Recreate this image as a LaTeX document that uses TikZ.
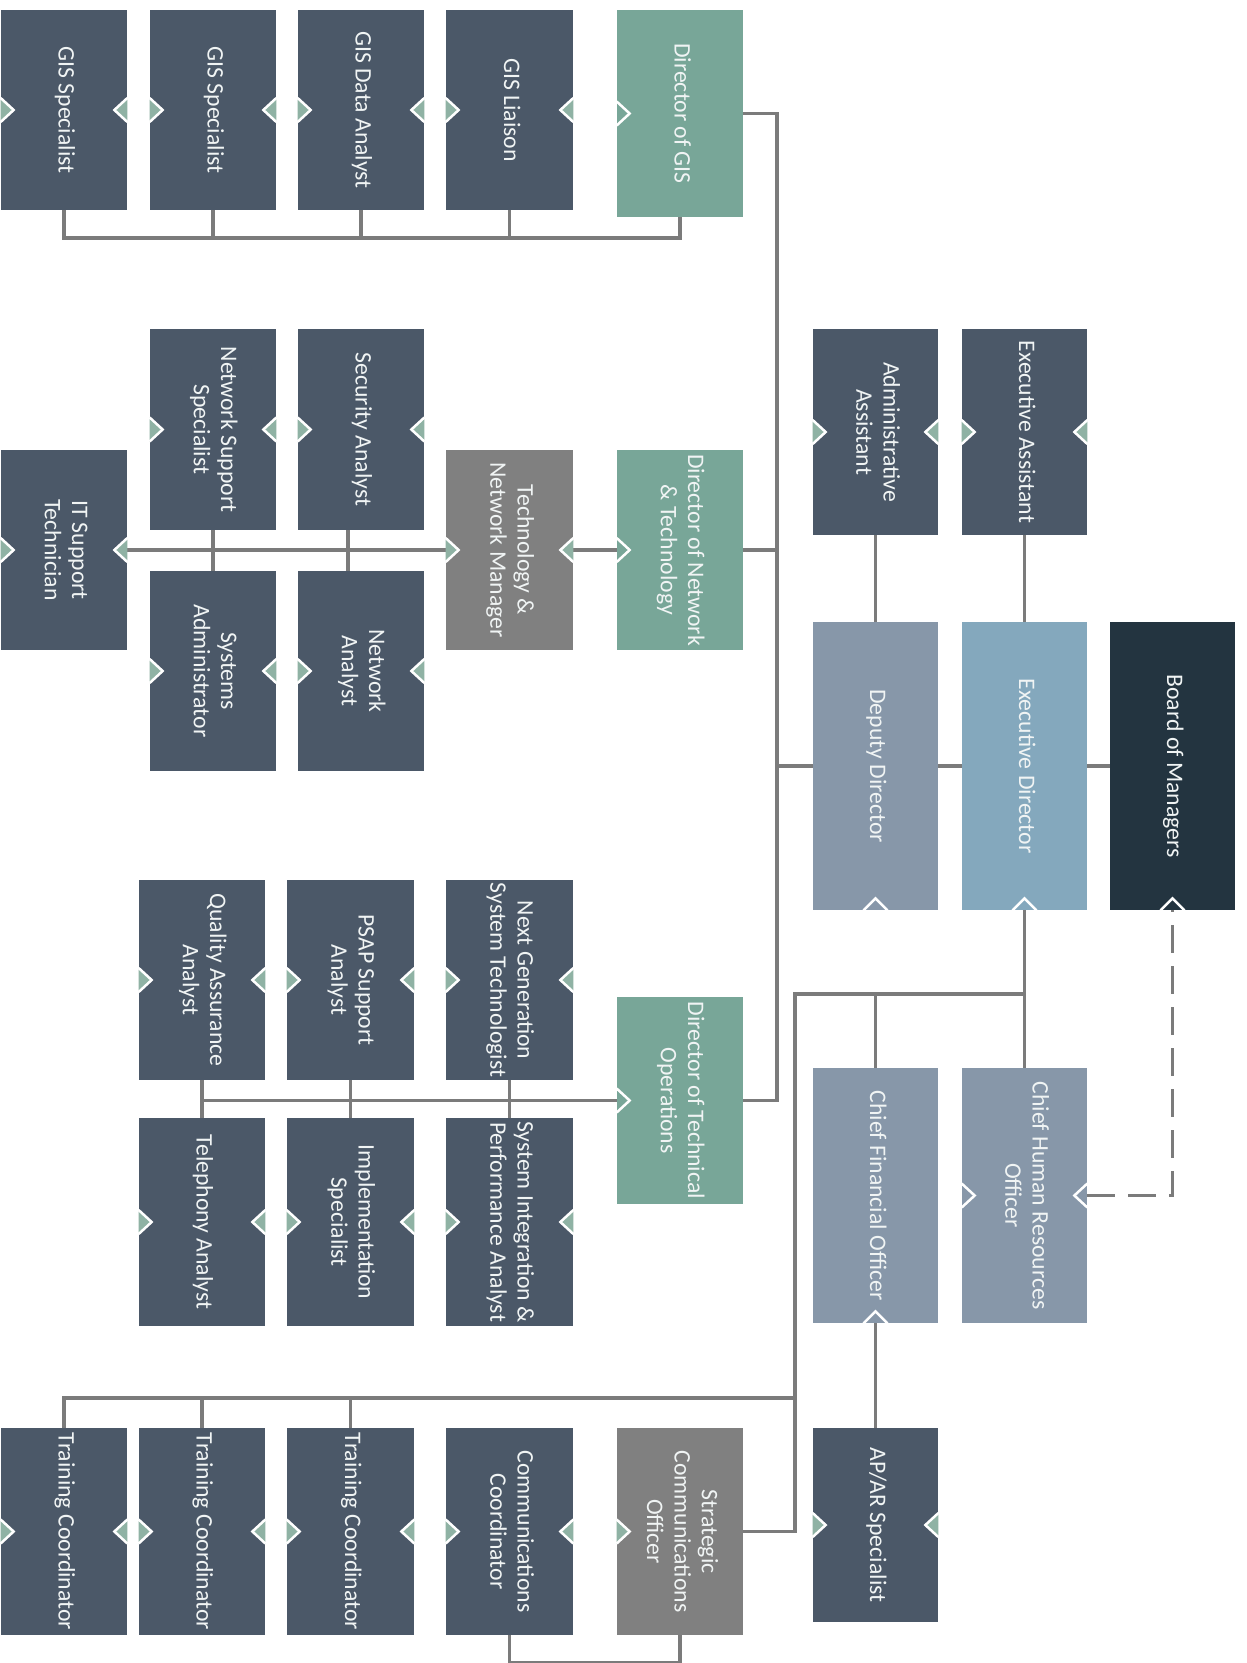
\documentclass[tikz,border=0pt]{standalone}
\usepackage{fontspec}
\setmainfont{Carlito}
\definecolor{cDark}{HTML}{4B5868}
\definecolor{cTeal}{HTML}{78A698}
\definecolor{cGrey}{HTML}{808080}
\definecolor{cDep}{HTML}{8797A9}
\definecolor{cExd}{HTML}{84A8BD}
\definecolor{cBoard}{HTML}{233440}
\definecolor{cMk}{HTML}{8FB2A4}
\definecolor{cLn}{HTML}{7B7B7B}
\definecolor{cTxt}{HTML}{F0F4F4}
\tikzset{
  box/.style={rectangle, inner sep=0pt, text=cTxt, font=\fontsize{13.5pt}{15.6pt}\selectfont},
  conn/.style={draw=cLn, line width=0.065cm},
  dashconn/.style={conn, dash pattern=on 0.56cm off 0.26cm},
  marker/.style={draw=white, line width=0.05cm, line join=miter},
}
\newcommand\vt[1]{\rotatebox{-90}{\begin{tabular}{@{}c@{}}#1\end{tabular}}}
\newcommand\bx[7]{\node[box, fill=#6, minimum width={(#4-#2)*0.02cm}, minimum height={(#5-#3)*0.02cm}] (#1) at ({(#2+#4)/2},{(#3+#5)/2}) {\vt{#7}};}
\newcommand\mkL[2][cMk]{\filldraw[marker, fill=#1] (#2.west) ++(0,-12) -- ++(13,12) -- ++(-13,12);}
\newcommand\mkR[2][cMk]{\filldraw[marker, fill=#1] (#2.east) ++(0,-12) -- ++(-13,12) -- ++(13,12);}
\newcommand\mkB[2][none]{\filldraw[marker, fill=#1] (#2.south) ++(-12,0) -- ++(12,-12) -- ++(12,12);}
\begin{document}
\begin{tikzpicture}[x=0.02cm, y=-0.02cm]
\fill[white] (0,0) rectangle (1247,1663);
\useasboundingbox (0,0) rectangle (1247,1663);

% GIS row
\bx{gis1}{1}{10}{127}{210}{cDark}{GIS Specialist}
\bx{gis2}{150}{10}{276}{210}{cDark}{GIS Specialist}
\bx{gisda}{298}{10}{424}{210}{cDark}{GIS Data Analyst}
\bx{gisl}{446}{10}{573}{210}{cDark}{GIS Liaison}
\bx{dgis}{617}{10}{743}{217}{cTeal}{Director of GIS}

% Network group
\bx{nss}{150}{329}{276}{530}{cDark}{Network Support\\Specialist}
\bx{sec}{298}{329}{424}{530}{cDark}{Security Analyst}
\bx{itst}{1}{450}{127}{650}{cDark}{IT Support\\Technician}
\bx{tnm}{446}{450}{573}{650}{cGrey}{Technology \&\\Network Manager}
\bx{dnt}{617}{450}{743}{650}{cTeal}{Director of Network\\\& Technology}
\bx{sysad}{150}{571}{276}{771}{cDark}{Systems\\Administrator}
\bx{neta}{298}{571}{424}{771}{cDark}{Network\\Analyst}

% Executive group
\bx{adm}{813}{329}{938}{535}{cDark}{Administrative\\Assistant}
\bx{exa}{962}{329}{1087}{535}{cDark}{Executive Assistant}
\bx{dep}{813}{622}{938}{910}{cDep}{Deputy Director}
\bx{exd}{962}{622}{1087}{910}{cExd}{Executive Director}
\bx{bom}{1110}{622}{1235}{910}{cBoard}{Board of Managers}

% Technical operations
\bx{dto}{617}{997}{743}{1204}{cTeal}{Director of Technical\\Operations}
\bx{ngst}{446}{880}{573}{1080}{cDark}{Next Generation\\System Technologist}
\bx{psap}{287}{880}{414}{1080}{cDark}{PSAP Support\\Analyst}
\bx{qaa}{139}{880}{265}{1080}{cDark}{Quality Assurance\\Analyst}
\bx{sipa}{446}{1118}{573}{1326}{cDark}{System Integration \&\\Performance Analyst}
\bx{impl}{287}{1118}{414}{1326}{cDark}{Implementation\\Specialist}
\bx{tel}{139}{1118}{265}{1326}{cDark}{Telephony Analyst}

% Finance / HR
\bx{cfo}{813}{1068}{938}{1323}{cDep}{Chief Financial Officer}
\bx{chro}{962}{1068}{1087}{1323}{cDep}{Chief Human Resources\\Officer}
\bx{apar}{813}{1428}{938}{1622}{cDark}{AP/AR Specialist}

% Communications / training
\bx{sco}{617}{1428}{743}{1635}{cGrey}{Strategic\\Communications\\Officer}
\bx{cc}{446}{1428}{573}{1635}{cDark}{Communications\\Coordinator}
\bx{tc3}{287}{1428}{414}{1635}{cDark}{Training Coordinator}
\bx{tc2}{139}{1428}{265}{1635}{cDark}{Training Coordinator}
\bx{tc1}{1}{1428}{127}{1635}{cDark}{Training Coordinator}

% bus coordinates
\coordinate (gbus) at (0,238);
\coordinate (trunk) at (777,0);
\coordinate (cbus) at (795,994);
\coordinate (tbus) at (0,1398);
\coordinate (bbus) at (0,1663);

% connectors
\draw[conn] (gis1.south) -- (gis1.south |- gbus) -- (dgis.south |- gbus) -- (dgis.south);
\foreach \n in {gis2,gisda,gisl} \draw[conn] (\n.south) -- (\n.south |- gbus);

\draw[conn] (dgis.east) -- (dgis.east -| trunk) -- (dto.east -| trunk) -- (dto.east);
\draw[conn] (dnt.east) -- (dnt.east -| trunk);
\draw[conn] (dep.west) -- (dep.west -| trunk);
\draw[conn] (dep.east) -- (exd.west);
\draw[conn] (exd.east) -- (bom.west);
\draw[conn] (adm.south) -- (dep.north);
\draw[conn] (exa.south) -- (exd.north);

\draw[conn] (tnm.east) -- (dnt.west);
\draw[conn] (itst.east) -- (tnm.west);
\draw[conn] (nss.south) -- (sysad.north);
\draw[conn] ([xshift=-0.26cm]sec.south) -- ([xshift=-0.26cm]neta.north);

\draw[conn] (qaa.south |- dto.west) -- (dto.west);
\draw[conn] (qaa.south) -- (tel.north);
\draw[conn] (psap.south) -- (impl.north);
\draw[conn] (ngst.south) -- (sipa.north);

\draw[conn] (exd.south) -- (chro.north);
\draw[conn] (chro.north |- cbus) -- (cbus) -- (cbus |- sco.east) -- (sco.east);
\draw[conn] (cfo.north) -- (cfo.north |- cbus);
\draw[conn] (apar.north) -- (cfo.south);
\draw[conn] (tc1.north) -- (tc1.north |- tbus) -- (tbus -| cbus);
\foreach \n in {tc2,tc3} \draw[conn] (\n.north) -- (\n.north |- tbus);
\draw[conn] (cc.south) -- (cc.south |- bbus) -- (sco.south |- bbus) -- (sco.south);
\draw[dashconn] (chro.east) -| (bom.south);

% markers
\foreach \n in {gis1,gis2,gisda,gisl,nss,sec,itst,tnm,sysad,neta,adm,exa,ngst,psap,qaa,sipa,impl,tel,apar,cc,tc1,tc2,tc3}{\mkL{\n}\mkR{\n}}
\mkL[none]{dgis}
\mkL[none]{dnt}
\mkL[none]{dto}
\mkL{sco}
\mkL[none]{chro}
\mkR[none]{chro}
\mkB{dep}
\mkB{exd}
\mkB{bom}
\mkB{cfo}
\end{tikzpicture}
\end{document}
